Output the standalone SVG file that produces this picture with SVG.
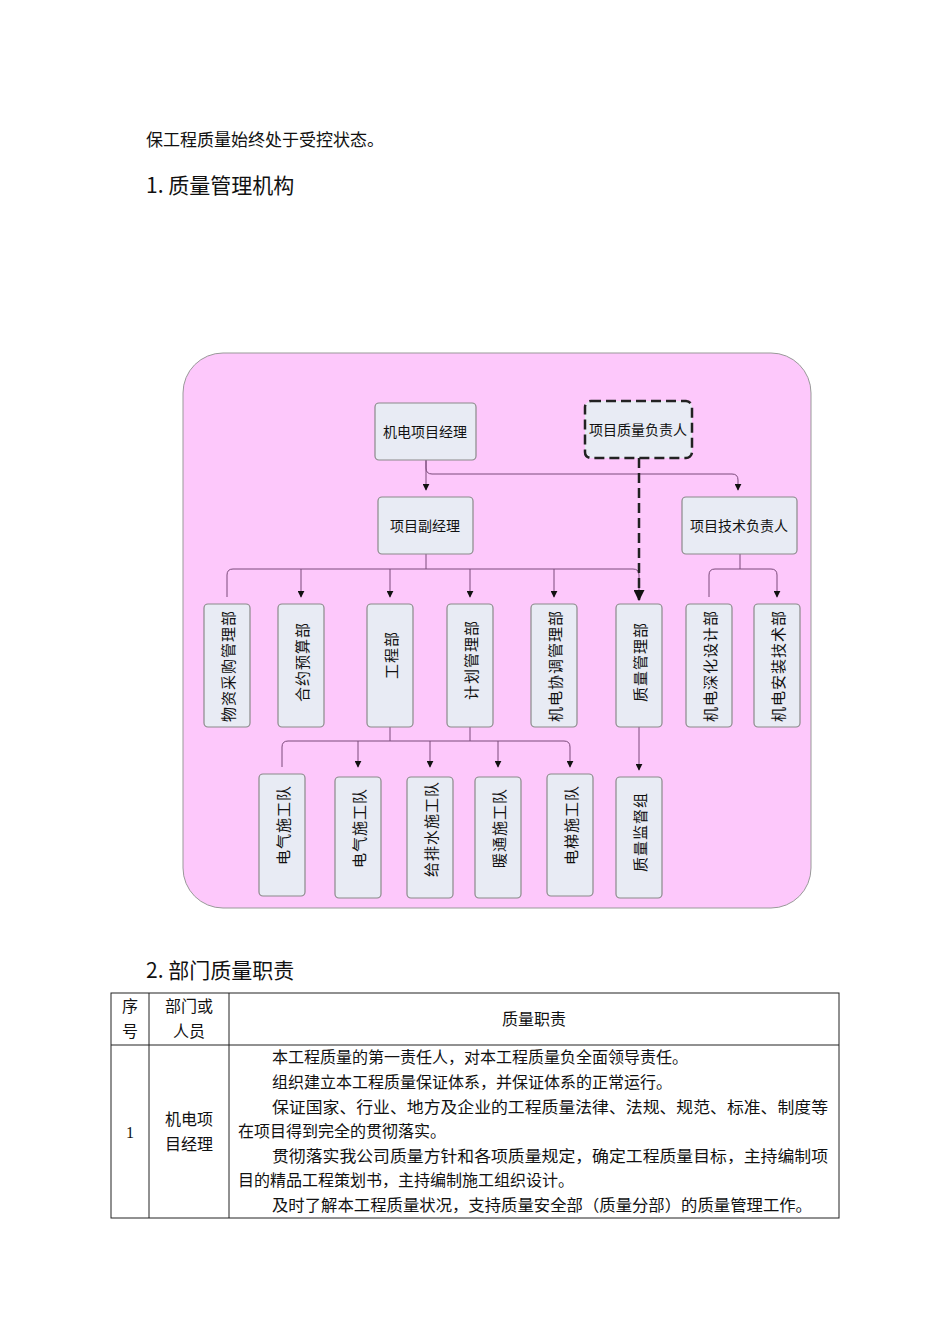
<svg xmlns="http://www.w3.org/2000/svg" width="950" height="1344" viewBox="0 0 950 1344">
<defs>
<marker id="ar" viewBox="0 0 10 10" refX="9" refY="5" markerWidth="7" markerHeight="7" markerUnits="userSpaceOnUse" orient="auto"><path d="M0,0 L10,5 L0,10 z" fill="#111"/></marker>
<marker id="arb" viewBox="0 0 10 10" refX="9" refY="5" markerWidth="11" markerHeight="11" markerUnits="userSpaceOnUse" orient="auto"><path d="M0,0 L10,5 L0,10 z" fill="#111"/></marker>
</defs>
<style>
text{font-family:"Noto Sans CJK SC","Liberation Sans",sans-serif;fill:#111}
.serif{font-family:"Liberation Serif","Noto Sans CJK SC",serif}
.box{fill:#e8ebf4;stroke:#8a8a8a;stroke-width:1.2}
.t{font-size:14px;text-anchor:middle;dominant-baseline:central}
.v{font-size:15px;letter-spacing:1px}
.c{fill:none;stroke:#7a4a7a;stroke-width:1}
.tb{fill:none;stroke:#222;stroke-width:1}
.p{font-size:16px}
</style>
<rect width="950" height="1344" fill="#fff"/>
<text x="146" y="146" style="font-size:17px" class="serif">保工程质量始终处于受控状态。</text>
<text x="146" y="193" style="font-size:21px">1. 质量管理机构</text>
<rect x="183" y="353" width="628" height="555" rx="40" fill="#fdc8fb" stroke="#999" stroke-width="1"/>
<g id="connectors">
<path class="c" d="M426,460 V490" marker-end="url(#ar)"/>
<path class="c" d="M426,460 V468 Q426,474 432,474 H732 Q738,474 738,480 V490" marker-end="url(#ar)"/>
<path class="c" d="M426,554 V569 M227,597 V575 Q227,569 233,569 H633 Q639,569 639,575 V597" marker-end="url(#ar)"/>
<path class="c" d="M301,569 V597" marker-end="url(#ar)"/>
<path class="c" d="M390,569 V597" marker-end="url(#ar)"/>
<path class="c" d="M470,569 V597" marker-end="url(#ar)"/>
<path class="c" d="M554,569 V597" marker-end="url(#ar)"/>
<path d="M639,458 V600" fill="none" stroke="#222" stroke-width="2.5" stroke-dasharray="10,5" marker-end="url(#arb)"/>
<path class="c" d="M740,554 V569 M709,597 V575 Q709,569 715,569 H771 Q777,569 777,575 V597" marker-end="url(#ar)"/>
<path class="c" d="M390,727 V741 M470,727 V741 M282,767 V747 Q282,741 288,741 H564 Q570,741 570,747 V767" marker-end="url(#ar)"/>
<path class="c" d="M358,741 V767" marker-end="url(#ar)"/>
<path class="c" d="M430,741 V767" marker-end="url(#ar)"/>
<path class="c" d="M498,741 V767" marker-end="url(#ar)"/>
<path class="c" d="M639,727 V770" marker-end="url(#ar)"/>
</g>
<g id="n1"><rect class="box" x="375" y="403" width="101" height="57" rx="4"/><text class="t" x="425" y="431">机电项目经理</text></g>
<g id="n2"><rect x="585" y="401" width="107" height="57" rx="6" fill="#e8ebf4" stroke="#222" stroke-width="2.5" stroke-dasharray="10,5"/><text class="t" x="638" y="429">项目质量负责人</text></g>
<g id="n3"><rect class="box" x="378" y="497" width="95" height="57" rx="4"/><text class="t" x="425" y="525">项目副经理</text></g>
<g id="n4"><rect class="box" x="682" y="497" width="115" height="57" rx="4"/><text class="t" x="739" y="525">项目技术负责人</text></g>
<g id="n5"><rect class="box" x="204" y="604" width="46" height="123" rx="4"/><text class="t v" transform="translate(227,666) rotate(-90)">物资采购管理部</text></g>
<g id="n6"><rect class="box" x="278" y="604" width="46" height="123" rx="4"/><text class="t v" transform="translate(301,662) rotate(-90)">合约预算部</text></g>
<g id="n7"><rect class="box" x="367" y="604" width="46" height="123" rx="4"/><text class="t v" transform="translate(390,655) rotate(-90)">工程部</text></g>
<g id="n8"><rect class="box" x="447" y="604" width="46" height="123" rx="4"/><text class="t v" transform="translate(470,660) rotate(-90)">计划管理部</text></g>
<g id="n9"><rect class="box" x="531" y="604" width="46" height="123" rx="4"/><text class="t v" transform="translate(554,666) rotate(-90)">机电协调管理部</text></g>
<g id="n10"><rect class="box" x="616" y="604" width="46" height="123" rx="4"/><text class="t v" transform="translate(639,662) rotate(-90)">质量管理部</text></g>
<g id="n11"><rect class="box" x="686" y="604" width="46" height="123" rx="4"/><text class="t v" transform="translate(709,666) rotate(-90)">机电深化设计部</text></g>
<g id="n12"><rect class="box" x="754" y="604" width="46" height="123" rx="4"/><text class="t v" transform="translate(777,666) rotate(-90)">机电安装技术部</text></g>
<g id="n13"><rect class="box" x="259" y="774" width="46" height="122" rx="4"/><text class="t v" transform="translate(282,825) rotate(-90)">电气施工队</text></g>
<g id="n14"><rect class="box" x="335" y="777" width="46" height="121" rx="4"/><text class="t v" transform="translate(358,828) rotate(-90)">电气施工队</text></g>
<g id="n15"><rect class="box" x="407" y="777" width="46" height="121" rx="4"/><text class="t v" transform="translate(430,829) rotate(-90)">给排水施工队</text></g>
<g id="n16"><rect class="box" x="475" y="777" width="46" height="121" rx="4"/><text class="t v" transform="translate(498,828) rotate(-90)">暖通施工队</text></g>
<g id="n17"><rect class="box" x="547" y="774" width="46" height="122" rx="4"/><text class="t v" transform="translate(570,825) rotate(-90)">电梯施工队</text></g>
<g id="n18"><rect class="box" x="616" y="777" width="46" height="121" rx="4"/><text class="t v" transform="translate(639,832) rotate(-90)">质量监督组</text></g>
<text x="146" y="978" style="font-size:21px">2. 部门质量职责</text>
<g id="table">
<rect class="tb" x="111" y="993" width="728" height="225"/>
<path class="tb" d="M111,1045 H839 M149,993 V1218 M229,993 V1218"/>
<text x="130" y="1012" text-anchor="middle" class="serif p">序</text>
<text x="130" y="1037" text-anchor="middle" class="serif p">号</text>
<text x="189" y="1012" text-anchor="middle" class="serif p">部门或</text>
<text x="189" y="1037" text-anchor="middle" class="serif p">人员</text>
<text x="534" y="1025" text-anchor="middle" class="serif p">质量职责</text>
<text x="130" y="1138" text-anchor="middle" class="serif p">1</text>
<text x="189" y="1125" text-anchor="middle" class="serif p">机电项</text>
<text x="189" y="1150" text-anchor="middle" class="serif p">目经理</text>
<text x="272" y="1063" class="serif p">本工程质量的第一责任人，对本工程质量负全面领导责任。</text>
<text x="272" y="1088" class="serif p">组织建立本工程质量保证体系，并保证体系的正常运行。</text>
<text x="272" y="1113" class="serif p" textLength="556" lengthAdjust="spacingAndGlyphs">保证国家、行业、地方及企业的工程质量法律、法规、规范、标准、制度等</text>
<text x="238" y="1137" class="serif p">在项目得到完全的贯彻落实。</text>
<text x="272" y="1162" class="serif p" textLength="556" lengthAdjust="spacingAndGlyphs">贯彻落实我公司质量方针和各项质量规定，确定工程质量目标，主持编制项</text>
<text x="238" y="1186" class="serif p">目的精品工程策划书，主持编制施工组织设计。</text>
<text x="272" y="1211" class="serif p" textLength="540" lengthAdjust="spacingAndGlyphs">及时了解本工程质量状况，支持质量安全部（质量分部）的质量管理工作。</text>
</g>
</svg>
